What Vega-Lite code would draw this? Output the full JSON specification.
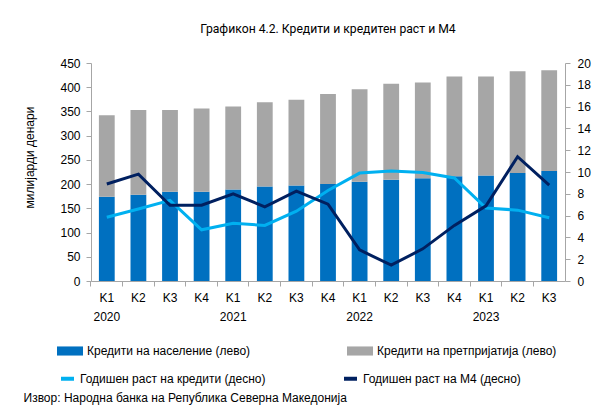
{
  "$schema": "https://vega.github.io/schema/vega-lite/v6.json",
  "width": 474,
  "height": 218,
  "autosize": {"type": "pad"},
  "padding": {"left": 23, "top": 22, "right": 5, "bottom": 5},
  "background": "white",
  "title": {
    "text": "Графикон 4.2. Кредити и кредитен раст и М4",
    "font": "Roboto",
    "fontSize": 12.2,
    "fontWeight": "normal",
    "color": "#000000",
    "anchor": "middle",
    "offset": 22
  },
  "config": {
    "view": {"stroke": null},
    "axis": {
      "domainColor": "#A6A6A6",
      "tickColor": "#A6A6A6",
      "labelFont": "Liberation Sans",
      "labelFontSize": 12,
      "labelColor": "#000000",
      "grid": false,
      "tickSize": 5
    }
  },
  "data": {
    "values": [
      {"q": "K1 2020", "hh": 174, "total": 342, "credit": 5.85, "m4": 8.9},
      {"q": "K2 2020", "hh": 178, "total": 353, "credit": 6.6, "m4": 9.8},
      {"q": "K3 2020", "hh": 184, "total": 353, "credit": 7.4, "m4": 6.95},
      {"q": "K4 2020", "hh": 184, "total": 356, "credit": 4.7, "m4": 6.95},
      {"q": "K1 2021", "hh": 189, "total": 360, "credit": 5.3, "m4": 8.0},
      {"q": "K2 2021", "hh": 195, "total": 369, "credit": 5.1, "m4": 6.8},
      {"q": "K3 2021", "hh": 197, "total": 374, "credit": 6.4, "m4": 8.25},
      {"q": "K4 2021", "hh": 200, "total": 386, "credit": 8.3, "m4": 7.05},
      {"q": "K1 2022", "hh": 205, "total": 396, "credit": 9.9, "m4": 2.85},
      {"q": "K2 2022", "hh": 209, "total": 407, "credit": 10.1, "m4": 1.45},
      {"q": "K3 2022", "hh": 212, "total": 410, "credit": 9.95, "m4": 2.95},
      {"q": "K4 2022", "hh": 216, "total": 422, "credit": 9.45, "m4": 5.1},
      {"q": "K1 2023", "hh": 218, "total": 422, "credit": 6.7, "m4": 6.9},
      {"q": "K2 2023", "hh": 223, "total": 433, "credit": 6.5, "m4": 11.4},
      {"q": "K3 2023", "hh": 227, "total": 435, "credit": 5.8, "m4": 8.8}
    ]
  },
  "encoding": {
    "x": {
      "field": "q",
      "type": "nominal",
      "sort": null,
      "scale": {"paddingInner": 0.5, "paddingOuter": 0.25},
      "axis": {
        "title": "Извор: Народна банка на Република Северна Македонија",
        "titleX": -68,
        "titleY": 111,
        "titleAlign": "left",
        "titleBaseline": "top",
        "titleFont": "Liberation Sans",
        "titleFontSize": 12,
        "titleFontWeight": "normal",
        "titleColor": "#000000",
        "labelAngle": 0,
        "labelPadding": 6,
        "labelLineHeight": 19,
        "bandPosition": -0.5,
        "labelOffset": 0,
        "labelExpr": "indexof(datum.value, 'K1') == 0 ? split(datum.value, ' ') : split(datum.value, ' ')[0]"
      }
    }
  },
  "layer": [
    {
      "encoding": {
        "y": {
          "field": "hh",
          "type": "quantitative",
          "scale": {"domain": [0, 450], "nice": false},
          "axis": {
            "orient": "left",
            "values": [0, 50, 100, 150, 200, 250, 300, 350, 400, 450],
            "labelPadding": 6,
            "title": "милијарди денари",
            "titleFont": "Liberation Sans",
            "titleFontSize": 12,
            "titleFontWeight": "normal",
            "titleColor": "#000000",
            "titleX": -55,
            "titleY": 94
          }
        }
      },
      "layer": [
        {
          "mark": {"type": "bar"},
          "encoding": {
            "fill": {
              "datum": "Кредити на население (лево)",
              "type": "nominal",
              "scale": {
                "domain": ["Кредити на население (лево)", "Кредити на претпријатија (лево)"],
                "range": ["#0070C0", "#A6A6A6"]
              },
              "legend": {
                "orient": "none",
                "legendX": -34,
                "legendY": 275,
                "direction": "horizontal",
                "columns": 2,
                "columnPadding": 96,
                "title": null,
                "symbolType": "M-1,-0.35H1V0.35H-1Z",
                "symbolSize": 676,
                "symbolStrokeWidth": 0,
                "labelFont": "Liberation Sans",
                "labelFontSize": 12,
                "labelColor": "#000000",
                "labelOffset": 4,
                "labelLimit": 400
              }
            }
          }
        },
        {
          "mark": {"type": "bar"},
          "encoding": {
            "y2": {"field": "total"},
            "fill": {"datum": "Кредити на претпријатија (лево)", "type": "nominal"}
          }
        }
      ]
    },
    {
      "layer": [
        {
          "mark": {"type": "line", "strokeWidth": 3},
          "encoding": {
            "y": {
              "field": "credit",
              "type": "quantitative",
              "scale": {"domain": [0, 20], "nice": false},
              "axis": {
                "orient": "right",
                "values": [0, 2, 4, 6, 8, 10, 12, 14, 16, 18, 20],
                "labelPadding": 7,
                "title": null
              }
            },
            "stroke": {
              "datum": "Годишен раст на кредити (десно)",
              "type": "nominal",
              "scale": {
                "domain": ["Годишен раст на кредити (десно)", "Годишен раст на М4 (десно)"],
                "range": ["#00B0F0", "#002060"]
              },
              "legend": {
                "orient": "none",
                "legendX": -32,
                "legendY": 307,
                "direction": "horizontal",
                "columns": 2,
                "columnPadding": 70,
                "title": null,
                "symbolType": "M-1,0H1",
                "symbolSize": 169,
                "symbolStrokeWidth": 4,
                "labelFont": "Liberation Sans",
                "labelFontSize": 12,
                "labelColor": "#000000",
                "labelOffset": 4,
                "labelLimit": 400
              }
            }
          }
        },
        {
          "mark": {"type": "line", "strokeWidth": 3},
          "encoding": {
            "y": {
              "field": "m4",
              "type": "quantitative",
              "scale": {"domain": [0, 20], "nice": false},
              "axis": {
                "orient": "right",
                "values": [0, 2, 4, 6, 8, 10, 12, 14, 16, 18, 20],
                "labelPadding": 7,
                "title": null
              }
            },
            "stroke": {"datum": "Годишен раст на М4 (десно)", "type": "nominal"}
          }
        }
      ]
    }
  ],
  "resolve": {"scale": {"y": "independent"}}
}
